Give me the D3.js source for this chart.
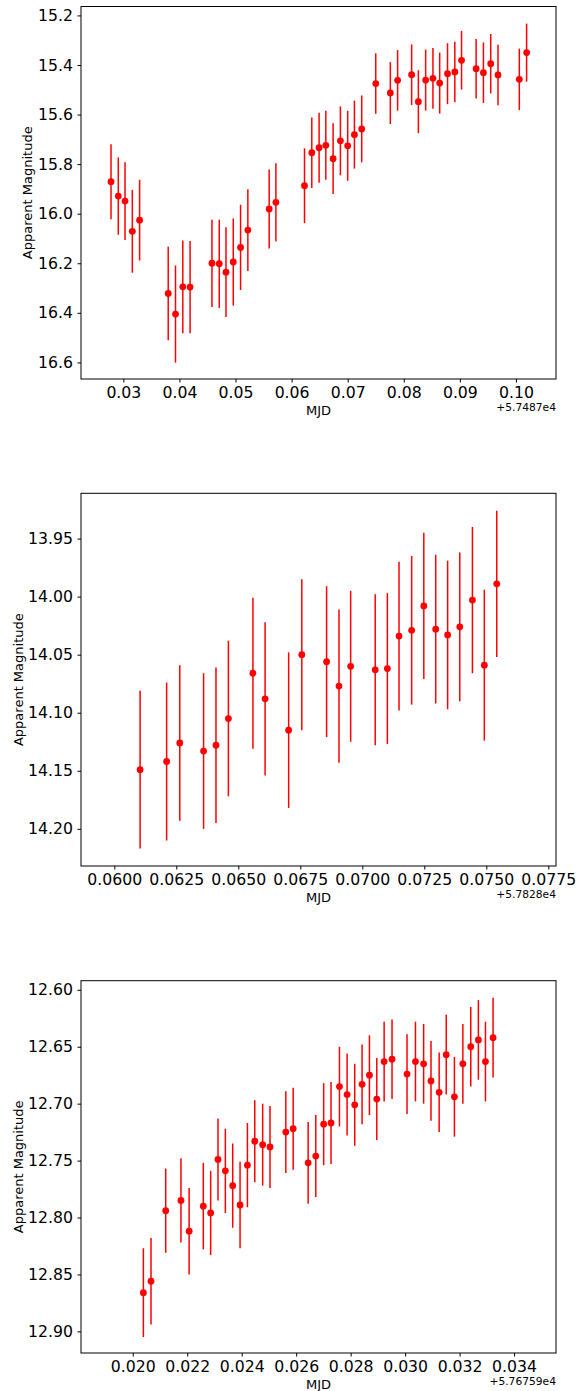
<!DOCTYPE html>
<html>
<head>
<meta charset="utf-8">
<script src="https://cdn.jsdelivr.net/npm/d3@7"></script>
<style>
  body { margin: 0; background: #fff; }
  svg { display: block; font-family: "DejaVu Sans", sans-serif; }
</style>
</head>
<body>
<svg width="585" height="1391"></svg>
<script>
// DATA - three light curves, MJD given relative to the offset shown on the axis

// panel 1 (+5.7487e4)
const mjd1 = [0.0278, 0.0291, 0.0303, 0.0316, 0.0329, 0.0380, 0.0393, 0.0406, 0.0419,
  0.0458, 0.0471, 0.0483, 0.0496, 0.0509, 0.0522, 0.0560, 0.0572, 0.0623, 0.0636,
  0.0649, 0.0661, 0.0674, 0.0687, 0.0700, 0.0712, 0.0725, 0.0750, 0.0776, 0.0789,
  0.0814, 0.0826, 0.0839, 0.0852, 0.0864, 0.0878, 0.0891, 0.0903, 0.0929, 0.0942,
  0.0955, 0.0968, 0.1006, 0.1019];
const mag1 = [15.871, 15.929, 15.949, 16.071, 16.026, 16.322, 16.405, 16.295, 16.296,
  16.200, 16.202, 16.236, 16.195, 16.136, 16.066, 15.981, 15.954, 15.887, 15.754,
  15.734, 15.724, 15.778, 15.706, 15.726, 15.681, 15.658, 15.475, 15.513, 15.462,
  15.439, 15.548, 15.461, 15.454, 15.473, 15.435, 15.428, 15.381, 15.415, 15.431,
  15.395, 15.440, 15.458, 15.350];
const err1 = [0.151, 0.156, 0.157, 0.167, 0.163, 0.189, 0.196, 0.187, 0.186,
  0.176, 0.178, 0.181, 0.176, 0.172, 0.165, 0.159, 0.158, 0.151, 0.142,
  0.141, 0.139, 0.143, 0.139, 0.141, 0.137, 0.135, 0.122, 0.125, 0.122,
  0.122, 0.127, 0.123, 0.123, 0.123, 0.123, 0.122, 0.118, 0.120, 0.122,
  0.120, 0.122, 0.124, 0.117];
const xTicks1 = [0.03, 0.04, 0.05, 0.06, 0.07, 0.08, 0.09, 0.10];
const yTicks1 = [15.2, 15.4, 15.6, 15.8, 16.0, 16.2, 16.4, 16.6];

// panel 2 (+5.7828e4)
const mjd2 = [0.06104, 0.06211, 0.06264, 0.06360, 0.06410, 0.06460, 0.06559, 0.06608,
  0.06703, 0.06756, 0.06856, 0.06906, 0.06953, 0.07052, 0.07101, 0.07148, 0.07199,
  0.07248, 0.07296, 0.07344, 0.07393, 0.07444, 0.07492, 0.07542];
const mag2 = [14.149, 14.142, 14.126, 14.133, 14.128, 14.105, 14.066, 14.088,
  14.115, 14.050, 14.056, 14.077, 14.060, 14.063, 14.062, 14.034, 14.029,
  14.008, 14.028, 14.033, 14.026, 14.003, 14.059, 13.989];
const err2 = [0.068, 0.068, 0.067, 0.067, 0.067, 0.067, 0.065, 0.066,
  0.067, 0.065, 0.065, 0.066, 0.065, 0.065, 0.065, 0.064, 0.064,
  0.063, 0.064, 0.064, 0.064, 0.063, 0.065, 0.063];
const xTicks2 = [0.0600, 0.0625, 0.0650, 0.0675, 0.0700, 0.0725, 0.0750, 0.0775];
const yTicks2 = [13.95, 14.00, 14.05, 14.10, 14.15, 14.20];

// panel 3 (+5.76759e4)
const mjd3 = [0.02039, 0.02067, 0.02121, 0.02177, 0.02207, 0.02259, 0.02286, 0.02313,
  0.02340, 0.02367, 0.02394, 0.02421, 0.02448, 0.02477, 0.02504, 0.02562, 0.02589,
  0.02644, 0.02672, 0.02701, 0.02728, 0.02759, 0.02787, 0.02815, 0.02842, 0.02869,
  0.02896, 0.02923, 0.02952, 0.03007, 0.03038, 0.03068, 0.03095, 0.03125, 0.03151,
  0.03181, 0.03212, 0.03241, 0.03269, 0.03295, 0.03323];
const mag3 = [12.866, 12.856, 12.794, 12.785, 12.812, 12.790, 12.796, 12.749,
  12.759, 12.772, 12.789, 12.754, 12.733, 12.736, 12.738, 12.725, 12.722,
  12.752, 12.746, 12.718, 12.717, 12.685, 12.692, 12.701, 12.683, 12.675,
  12.696, 12.663, 12.661, 12.674, 12.663, 12.665, 12.680, 12.690, 12.657,
  12.694, 12.665, 12.650, 12.644, 12.663, 12.642];
const err3 = [0.039, 0.038, 0.037, 0.037, 0.038, 0.038, 0.037, 0.036,
  0.037, 0.037, 0.038, 0.037, 0.036, 0.036, 0.036, 0.036, 0.036,
  0.036, 0.036, 0.036, 0.036, 0.035, 0.036, 0.036, 0.035, 0.035,
  0.036, 0.035, 0.035, 0.035, 0.035, 0.035, 0.035, 0.035, 0.035,
  0.035, 0.035, 0.035, 0.035, 0.035, 0.035];
const xTicks3 = [0.020, 0.022, 0.024, 0.026, 0.028, 0.030, 0.032, 0.034];
const yTicks3 = [12.60, 12.65, 12.70, 12.75, 12.80, 12.85, 12.90];

const offsets = ["+5.7487e4", "+5.7828e4", "+5.76759e4"];

// SETUP - panel placement and axis limits
const svg = d3.select("svg");
const left = 81, right = 556;

const panels = [
  { mjd: mjd1, mag: mag1, err: err1, xTicks: xTicks1, yTicks: yTicks1,
    xDomain: [0.02245, 0.10714], yDomain: [15.164, 16.667],
    top: 6.5, bottom: 379, xFmt: ".2f", yFmt: ".1f", ylabelX: 32 },
  { mjd: mjd2, mag: mag2, err: err2, xTicks: xTicks2, yTicks: yTicks2,
    xDomain: [0.058657, 0.07781], yDomain: [13.911, 14.232],
    top: 493.3, bottom: 866, xFmt: ".4f", yFmt: ".2f", ylabelX: 22.5 },
  { mjd: mjd3, mag: mag3, err: err3, xTicks: xTicks3, yTicks: yTicks3,
    xDomain: [0.0181, 0.03554], yDomain: [12.592, 12.919],
    top: 980.7, bottom: 1353, xFmt: ".3f", yFmt: ".2f", ylabelX: 22.5 },
];

panels.forEach((p, i) => drawPanel(p, offsets[i]));

function drawPanel(p, offsetText) {
  const x = d3.scaleLinear().domain(p.xDomain).range([left, right]);
  const y = d3.scaleLinear().domain(p.yDomain).range([p.top, p.bottom]);
  const g = svg.append("g");

  // axes
  const xAxis = d3.axisBottom(x)
    .tickValues(p.xTicks)
    .tickFormat(d3.format(p.xFmt))
    .tickSizeInner(3.5)
    .tickSizeOuter(0)
    .tickPadding(4.5);
  const yAxis = d3.axisLeft(y)
    .tickValues(p.yTicks)
    .tickFormat(d3.format(p.yFmt))
    .tickSizeInner(3.5)
    .tickSizeOuter(0)
    .tickPadding(4.5);

  const gx = g.append("g")
    .attr("transform", `translate(0,${p.bottom})`)
    .call(xAxis);
  const gy = g.append("g")
    .attr("transform", `translate(${left},0)`)
    .call(yAxis);

  [gx, gy].forEach((a) => {
    a.select(".domain").remove();
    a.selectAll("line").attr("stroke", "#000").attr("stroke-width", 1);
    a.selectAll("text")
      .attr("fill", "#000")
      .style("font-family", "DejaVu Sans")
      .style("font-size", "15.7px");
  });

  // error bars
  const pts = p.mjd.map((m, k) => ({ m: m, v: p.mag[k], e: p.err[k] }));
  g.selectAll(".err")
    .data(pts)
    .enter()
    .append("line")
    .attr("class", "err")
    .attr("x1", (d) => x(d.m))
    .attr("x2", (d) => x(d.m))
    .attr("y1", (d) => y(d.v - d.e))
    .attr("y2", (d) => y(d.v + d.e))
    .attr("stroke", "#ff0000")
    .attr("stroke-width", 1.5);

  // markers
  g.selectAll(".pt")
    .data(pts)
    .enter()
    .append("circle")
    .attr("class", "pt")
    .attr("cx", (d) => x(d.m))
    .attr("cy", (d) => y(d.v))
    .attr("r", 3.4)
    .attr("fill", "#ff0000");

  // frame
  g.append("rect")
    .attr("x", left)
    .attr("y", p.top)
    .attr("width", right - left)
    .attr("height", p.bottom - p.top)
    .attr("fill", "none")
    .attr("stroke", "#000")
    .attr("stroke-width", 1);

  // labels
  g.append("text")
    .attr("x", (left + right) / 2)
    .attr("y", p.bottom + 35.5)
    .attr("text-anchor", "middle")
    .style("font-size", "13px")
    .text("MJD");

  g.append("text")
    .attr("x", right)
    .attr("y", p.bottom + 31.5)
    .attr("text-anchor", "end")
    .style("font-size", "10.7px")
    .text(offsetText);

  g.append("text")
    .attr("transform", `translate(${p.ylabelX},${(p.top + p.bottom) / 2}) rotate(-90)`)
    .attr("text-anchor", "middle")
    .style("font-size", "13px")
    .text("Apparent Magnitude");
}
</script>
</body>
</html>
